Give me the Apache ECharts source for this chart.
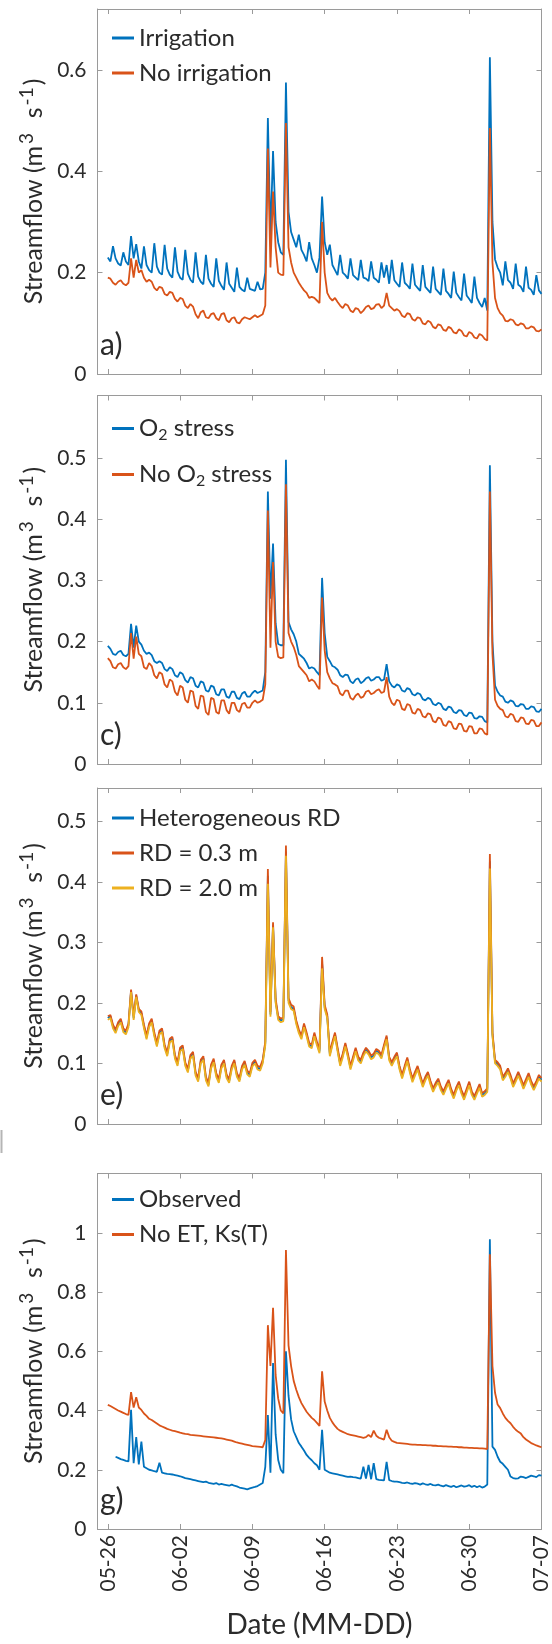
<!DOCTYPE html>
<html><head><meta charset="utf-8">
<script src="https://cdn.jsdelivr.net/npm/echarts@6/dist/echarts.min.js"></script>
<style>html,body{margin:0;padding:0;background:#fff}#c{width:552px;height:1644px}</style>
</head><body><div id="c"></div><script>
// x positions: days since 05-26 00:00, sampled every 6 h (0 .. 42)
const tickDays = [0, 7, 14, 21, 28, 35, 42];
const tickLabels = ['05-26', '06-02', '06-09', '06-16', '06-23', '06-30', '07-07'];
const days = [];
for (let i = 0; i <= 168; i++) days.push(i / 4);

// Panel a
const irrigation = [
0.23,0.222,0.252,0.228, 0.218,0.214,0.24,0.222, 0.215,0.272,0.228,0.256, 0.222,0.208,0.252,0.215, 0.205,0.2,0.258,0.212, 0.2,0.196,0.255,0.208, 0.196,0.19,0.25,0.202,
0.19,0.186,0.245,0.198, 0.186,0.18,0.24,0.192, 0.182,0.177,0.235,0.188, 0.178,0.172,0.228,0.184, 0.174,0.166,0.22,0.178, 0.17,0.162,0.21,0.172, 0.166,0.163,0.19,0.168,
0.166,0.164,0.182,0.167, 0.168,0.2,0.505,0.27, 0.44,0.3,0.26,0.24, 0.235,0.575,0.32,0.28, 0.265,0.25,0.275,0.245, 0.235,0.222,0.26,0.228, 0.215,0.2,0.23,0.35,
0.26,0.235,0.255,0.215, 0.205,0.195,0.235,0.2, 0.195,0.188,0.228,0.195, 0.19,0.185,0.225,0.19, 0.188,0.183,0.222,0.19, 0.186,0.18,0.22,0.19, 0.215,0.178,0.225,0.185,
0.178,0.172,0.22,0.18, 0.175,0.168,0.218,0.176, 0.17,0.164,0.215,0.172, 0.166,0.16,0.212,0.168, 0.162,0.156,0.208,0.164, 0.158,0.15,0.202,0.16, 0.152,0.145,0.198,0.155,
0.148,0.14,0.192,0.15, 0.14,0.132,0.15,0.125, 0.625,0.3,0.226,0.21, 0.2,0.175,0.222,0.185, 0.18,0.168,0.218,0.176, 0.172,0.162,0.212,0.17, 0.166,0.156,0.195,0.165,
0.158];
const noIrrigation = [
0.19,0.188,0.18,0.176, 0.182,0.185,0.178,0.175, 0.18,0.228,0.19,0.225, 0.2,0.205,0.19,0.182, 0.186,0.182,0.17,0.165, 0.172,0.17,0.158,0.155, 0.162,0.16,0.148,0.143,
0.15,0.148,0.135,0.13, 0.138,0.133,0.118,0.11, 0.122,0.125,0.112,0.11, 0.118,0.12,0.11,0.106, 0.118,0.12,0.106,0.102, 0.11,0.112,0.102,0.1, 0.108,0.112,0.11,0.108,
0.112,0.116,0.112,0.115, 0.118,0.135,0.445,0.21, 0.36,0.25,0.2,0.196, 0.195,0.495,0.25,0.22, 0.2,0.19,0.18,0.172, 0.165,0.16,0.15,0.152, 0.15,0.145,0.14,0.30,
0.2,0.16,0.15,0.145, 0.15,0.142,0.135,0.13, 0.138,0.135,0.125,0.122, 0.13,0.128,0.12,0.125, 0.132,0.135,0.128,0.13, 0.137,0.138,0.13,0.135, 0.16,0.135,0.13,0.125,
0.128,0.124,0.115,0.112, 0.12,0.118,0.108,0.105, 0.112,0.11,0.1,0.098, 0.105,0.102,0.093,0.09, 0.098,0.096,0.087,0.085, 0.093,0.09,0.082,0.08, 0.088,0.085,0.076,0.074,
0.083,0.08,0.072,0.07, 0.079,0.076,0.069,0.066, 0.485,0.22,0.15,0.13, 0.12,0.115,0.105,0.104, 0.108,0.106,0.098,0.096, 0.1,0.098,0.09,0.09, 0.094,0.092,0.085,0.084,
0.088];

// Panel c
const o2Stress = [
0.193,0.188,0.18,0.178, 0.183,0.185,0.178,0.176, 0.18,0.229,0.19,0.226, 0.2,0.195,0.185,0.18, 0.182,0.178,0.168,0.165, 0.168,0.165,0.155,0.152, 0.158,0.155,0.145,0.142,
0.15,0.147,0.137,0.133, 0.142,0.14,0.128,0.125, 0.135,0.133,0.12,0.118, 0.128,0.126,0.114,0.112, 0.122,0.122,0.11,0.108, 0.118,0.118,0.108,0.106, 0.115,0.118,0.11,0.11,
0.116,0.12,0.116,0.118, 0.12,0.15,0.445,0.27, 0.36,0.23,0.196,0.194, 0.194,0.497,0.232,0.22, 0.212,0.2,0.18,0.176, 0.172,0.165,0.156,0.158, 0.156,0.15,0.145,0.304,
0.214,0.175,0.168,0.16, 0.158,0.154,0.145,0.142, 0.146,0.145,0.135,0.132, 0.138,0.14,0.132,0.135, 0.14,0.142,0.136,0.138, 0.142,0.142,0.136,0.138, 0.163,0.135,0.128,0.125,
0.13,0.128,0.12,0.118, 0.124,0.122,0.114,0.112, 0.116,0.114,0.106,0.104, 0.108,0.106,0.098,0.096, 0.1,0.098,0.09,0.088, 0.094,0.092,0.085,0.083, 0.088,0.087,0.08,0.078,
0.084,0.083,0.075,0.074, 0.078,0.077,0.07,0.068, 0.488,0.2,0.128,0.118, 0.112,0.11,0.102,0.1, 0.104,0.102,0.095,0.094, 0.098,0.097,0.09,0.09, 0.094,0.093,0.086,0.085,
0.09];
const noO2Stress = [
0.173,0.168,0.158,0.156, 0.163,0.165,0.158,0.155, 0.16,0.214,0.172,0.208, 0.18,0.176,0.158,0.155, 0.165,0.16,0.145,0.14, 0.15,0.147,0.13,0.125, 0.138,0.135,0.118,0.112,
0.128,0.125,0.105,0.1, 0.12,0.118,0.095,0.09, 0.112,0.11,0.085,0.08, 0.108,0.106,0.085,0.082, 0.104,0.104,0.088,0.082, 0.1,0.1,0.088,0.085, 0.098,0.1,0.092,0.092,
0.1,0.104,0.1,0.102, 0.105,0.13,0.414,0.19, 0.33,0.2,0.175,0.173, 0.174,0.457,0.214,0.2, 0.191,0.178,0.16,0.155, 0.15,0.145,0.135,0.138, 0.135,0.128,0.122,0.272,
0.186,0.15,0.14,0.132, 0.13,0.127,0.115,0.112, 0.12,0.12,0.108,0.105, 0.112,0.115,0.108,0.11, 0.118,0.12,0.114,0.116, 0.12,0.122,0.116,0.118, 0.142,0.11,0.1,0.096,
0.105,0.103,0.09,0.088, 0.098,0.096,0.084,0.082, 0.09,0.088,0.078,0.076, 0.083,0.081,0.07,0.068, 0.076,0.074,0.064,0.062, 0.07,0.068,0.058,0.057, 0.066,0.065,0.054,0.053,
0.062,0.061,0.05,0.05, 0.058,0.057,0.05,0.048, 0.445,0.18,0.105,0.095, 0.09,0.088,0.078,0.076, 0.082,0.08,0.07,0.069, 0.076,0.075,0.066,0.065, 0.072,0.071,0.062,0.062,
0.068];

// Panel e
const heteroRD = [
0.175,0.178,0.161,0.153, 0.165,0.171,0.155,0.151, 0.163,0.22,0.175,0.212, 0.188,0.183,0.161,0.143, 0.163,0.171,0.148,0.131, 0.151,0.155,0.128,0.115, 0.138,0.141,0.111,0.099,
0.123,0.127,0.099,0.088, 0.111,0.116,0.083,0.073, 0.103,0.109,0.075,0.065, 0.095,0.105,0.081,0.071, 0.095,0.103,0.079,0.071, 0.093,0.103,0.081,0.073, 0.093,0.101,0.085,0.081,
0.098,0.103,0.093,0.091, 0.103,0.133,0.41,0.181, 0.329,0.203,0.175,0.171, 0.173,0.45,0.204,0.193, 0.19,0.168,0.153,0.143, 0.163,0.148,0.131,0.128, 0.148,0.133,0.12,0.266,
0.193,0.178,0.115,0.133, 0.148,0.123,0.099,0.113, 0.131,0.113,0.093,0.108, 0.123,0.108,0.103,0.115, 0.123,0.118,0.11,0.113, 0.121,0.118,0.111,0.128, 0.143,0.108,0.099,0.108,
0.115,0.093,0.078,0.093, 0.107,0.088,0.072,0.083, 0.093,0.078,0.064,0.075, 0.083,0.068,0.056,0.065, 0.072,0.059,0.051,0.061, 0.07,0.055,0.045,0.058, 0.067,0.053,0.043,0.055,
0.067,0.051,0.043,0.053, 0.063,0.048,0.051,0.056, 0.434,0.148,0.103,0.099, 0.093,0.075,0.081,0.089, 0.078,0.064,0.073,0.083, 0.073,0.061,0.071,0.081, 0.068,0.059,0.068,0.078,
0.073];
const rd03 = [
0.178,0.18,0.164,0.156, 0.168,0.174,0.158,0.154, 0.166,0.222,0.178,0.214, 0.19,0.186,0.164,0.146, 0.166,0.174,0.151,0.134, 0.154,0.158,0.131,0.118, 0.141,0.144,0.114,0.102,
0.126,0.13,0.102,0.091, 0.114,0.119,0.086,0.076, 0.106,0.112,0.078,0.068, 0.098,0.108,0.084,0.074, 0.098,0.106,0.082,0.074, 0.096,0.106,0.084,0.076, 0.096,0.104,0.088,0.084,
0.101,0.106,0.096,0.094, 0.106,0.136,0.421,0.185, 0.333,0.207,0.178,0.174, 0.176,0.46,0.208,0.197, 0.194,0.171,0.156,0.146, 0.166,0.151,0.134,0.131, 0.151,0.136,0.123,0.276,
0.197,0.181,0.118,0.136, 0.151,0.126,0.102,0.116, 0.134,0.116,0.096,0.111, 0.126,0.111,0.106,0.118, 0.126,0.121,0.113,0.116, 0.124,0.121,0.114,0.131, 0.146,0.111,0.102,0.111,
0.118,0.096,0.081,0.096, 0.11,0.091,0.075,0.086, 0.096,0.081,0.067,0.078, 0.086,0.071,0.059,0.068, 0.075,0.062,0.054,0.064, 0.073,0.058,0.048,0.061, 0.07,0.056,0.046,0.058,
0.07,0.054,0.046,0.056, 0.066,0.051,0.054,0.059, 0.446,0.152,0.106,0.102, 0.096,0.078,0.084,0.092, 0.081,0.067,0.076,0.086, 0.076,0.064,0.074,0.084, 0.071,0.062,0.071,0.081,
0.076];
const rd20 = [
0.172,0.175,0.158,0.15, 0.162,0.168,0.152,0.148, 0.16,0.218,0.172,0.21, 0.185,0.18,0.158,0.14, 0.16,0.168,0.145,0.128, 0.148,0.152,0.125,0.112, 0.135,0.138,0.108,0.096,
0.12,0.124,0.096,0.085, 0.108,0.113,0.08,0.07, 0.1,0.106,0.072,0.062, 0.092,0.102,0.078,0.068, 0.092,0.1,0.076,0.068, 0.09,0.1,0.078,0.07, 0.09,0.098,0.082,0.078,
0.095,0.1,0.09,0.088, 0.1,0.13,0.397,0.177, 0.325,0.2,0.172,0.168, 0.17,0.443,0.2,0.19, 0.187,0.165,0.15,0.14, 0.16,0.145,0.128,0.125, 0.145,0.13,0.117,0.257,
0.19,0.175,0.112,0.13, 0.145,0.12,0.096,0.11, 0.128,0.11,0.09,0.105, 0.12,0.105,0.1,0.112, 0.12,0.115,0.107,0.11, 0.118,0.115,0.108,0.125, 0.14,0.105,0.096,0.105,
0.112,0.09,0.075,0.09, 0.104,0.085,0.069,0.08, 0.09,0.075,0.061,0.072, 0.08,0.065,0.053,0.062, 0.069,0.056,0.048,0.058, 0.067,0.052,0.042,0.055, 0.064,0.05,0.04,0.052,
0.064,0.048,0.04,0.05, 0.06,0.045,0.048,0.053, 0.422,0.145,0.1,0.096, 0.09,0.072,0.078,0.086, 0.075,0.061,0.07,0.08, 0.07,0.058,0.068,0.078, 0.065,0.056,0.065,0.075,
0.07];

// Panel g
const observed = [
null,null,null,0.244, 0.24,0.236,0.233,0.23, 0.228,0.402,0.222,0.31, 0.218,0.295,0.21,0.205, 0.2,0.198,0.195,0.193, 0.224,0.19,0.188,0.186, 0.185,0.184,0.182,0.18,
0.178,0.175,0.172,0.17, 0.168,0.166,0.164,0.162, 0.16,0.158,0.16,0.156, 0.154,0.152,0.155,0.15, 0.152,0.15,0.148,0.146, 0.15,0.146,0.144,0.14, 0.138,0.136,0.134,0.137,
0.14,0.142,0.145,0.15, 0.155,0.21,0.385,0.19, 0.56,0.32,0.233,0.2, 0.188,0.6,0.45,0.37, 0.33,0.31,0.29,0.278, 0.265,0.25,0.24,0.232, 0.222,0.215,0.2,0.335,
0.2,0.195,0.19,0.188, 0.186,0.184,0.182,0.18, 0.178,0.176,0.177,0.175, 0.174,0.172,0.17,0.21, 0.17,0.216,0.168,0.222, 0.168,0.166,0.165,0.164, 0.227,0.165,0.162,0.16,
0.16,0.158,0.156,0.155, 0.157,0.154,0.152,0.155, 0.153,0.15,0.154,0.151, 0.149,0.152,0.148,0.147, 0.15,0.146,0.144,0.148, 0.145,0.142,0.146,0.141, 0.144,0.147,0.143,0.145,
0.148,0.142,0.146,0.141, 0.145,0.14,0.143,0.15, 0.978,0.278,0.267,0.244, 0.227,0.22,0.21,0.2, 0.177,0.172,0.17,0.171, 0.177,0.175,0.172,0.176, 0.18,0.178,0.175,0.182,
0.18];
const noEtKsT = [
0.419,0.415,0.41,0.405, 0.4,0.396,0.392,0.388, 0.385,0.462,0.41,0.445, 0.41,0.402,0.39,0.382, 0.372,0.368,0.362,0.356, 0.35,0.346,0.342,0.338, 0.335,0.332,0.33,0.328,
0.325,0.323,0.321,0.32, 0.318,0.317,0.316,0.315, 0.314,0.313,0.312,0.311, 0.31,0.309,0.308,0.307, 0.306,0.304,0.302,0.3, 0.298,0.295,0.292,0.29, 0.288,0.286,0.284,0.282,
0.28,0.279,0.278,0.277, 0.276,0.3,0.688,0.55, 0.747,0.52,0.44,0.4, 0.39,0.942,0.62,0.55, 0.5,0.47,0.445,0.425, 0.41,0.396,0.385,0.375, 0.368,0.358,0.348,0.532,
0.43,0.4,0.375,0.36, 0.348,0.338,0.332,0.328, 0.324,0.32,0.318,0.316, 0.314,0.312,0.31,0.308, 0.31,0.318,0.31,0.332, 0.315,0.308,0.305,0.302, 0.335,0.31,0.298,0.294,
0.291,0.29,0.289,0.288, 0.287,0.286,0.285,0.285, 0.284,0.284,0.283,0.283, 0.282,0.282,0.281,0.281, 0.28,0.28,0.279,0.279, 0.278,0.278,0.277,0.277, 0.276,0.276,0.275,0.275,
0.274,0.274,0.273,0.273, 0.272,0.272,0.271,0.27, 0.927,0.55,0.46,0.42, 0.408,0.39,0.375,0.365, 0.357,0.345,0.335,0.328, 0.322,0.31,0.302,0.296, 0.29,0.286,0.282,0.279,
0.276];

const yTicksA = [0, 0.2, 0.4, 0.6];
const yTicksC = [0, 0.1, 0.2, 0.3, 0.4, 0.5];
const yTicksE = [0, 0.1, 0.2, 0.3, 0.4, 0.5];
const yTicksG = [0, 0.2, 0.4, 0.6, 0.8, 1];

const BLUE = '#0072BD', ORANGE = '#D95319', YELLOW = '#EDB120';
const TXT = '#2b2b2b', AX = '#9a9a9a', FONT = 'Lato';

const panels = [
  {top: 9, h: 365, ymax: 0.72, yt: yTicksA, label: 'a)', gap: 11, lt: 17,
   series: [{name: 'Irrigation', d: irrigation, c: BLUE}, {name: 'No irrigation', d: noIrrigation, c: ORANGE}]},
  {top: 395.5, h: 368.5, ymax: 0.602, yt: yTicksC, label: 'c)', gap: 20, lt: 21,
   series: [{name: 'O2 stress', d: o2Stress, c: BLUE}, {name: 'No O2 stress', d: noO2Stress, c: ORANGE}]},
  {top: 788, h: 336, ymax: 0.555, yt: yTicksE, label: 'e)', gap: 11, lt: 18,
   series: [{name: 'Heterogeneous RD', d: heteroRD, c: BLUE}, {name: 'RD = 0.3 m', d: rd03, c: ORANGE}, {name: 'RD = 2.0 m', d: rd20, c: YELLOW}]},
  {top: 1173.5, h: 355.5, ymax: 1.2, yt: yTicksG, label: 'g)', gap: 11, lt: 14,
   series: [{name: 'Observed', d: observed, c: BLUE}, {name: 'No ET, Ks(T)', d: noEtKsT, c: ORANGE}]}
];

const axLine = {show: true, onZero: false, lineStyle: {color: AX, width: 1}};
const grid = [], xAxis = [], yAxis = [], series = [], legend = [], graphic = [];
panels.forEach((p, i) => {
  grid.push({left: 97.5, right: 10.5, top: p.top, height: p.h});
  const last = i === panels.length - 1;
  xAxis.push({type: 'value', gridIndex: i, min: -1, max: 42, axisLine: axLine,
    axisTick: {inside: true, length: 5, customValues: tickDays, lineStyle: {color: AX}},
    axisLabel: {show: last, customValues: tickDays, rotate: 90, margin: 6, fontSize: 21, color: TXT, fontFamily: FONT,
      formatter: v => tickLabels[tickDays.indexOf(v)]},
    splitLine: {show: false},
    name: last ? 'Date (MM-DD)' : '', nameLocation: 'middle', nameGap: 82,
    nameTextStyle: {fontSize: 28, color: TXT, fontFamily: FONT}});
  xAxis.push({type: 'value', gridIndex: i, position: 'top', min: -1, max: 42, axisLine: axLine,
    axisTick: {inside: true, length: 5, customValues: tickDays, lineStyle: {color: AX}},
    axisLabel: {show: false}, splitLine: {show: false}});
  yAxis.push({type: 'value', gridIndex: i, min: 0, max: p.ymax, axisLine: axLine,
    axisTick: {inside: true, length: 5, customValues: p.yt, lineStyle: {color: AX}},
    axisLabel: {customValues: p.yt, margin: 11, fontSize: 21, color: TXT, fontFamily: FONT},
    splitLine: {show: false},
    name: 'Streamflow (m{sup|3}  s{sup|-1})', nameLocation: 'middle', nameGap: 45,
    nameTextStyle: {fontSize: 25, color: TXT, fontFamily: FONT,
      rich: {sup: {fontSize: 19, color: TXT, fontFamily: FONT, padding: [0, 2, 14, 2]}}}});
  yAxis.push({type: 'value', gridIndex: i, position: 'right', min: 0, max: p.ymax, axisLine: axLine,
    axisTick: {inside: true, length: 5, customValues: p.yt, lineStyle: {color: AX}},
    axisLabel: {show: false}, splitLine: {show: false}});
  p.series.forEach(s => {
    series.push({type: 'line', name: s.name, xAxisIndex: 2 * i, yAxisIndex: 2 * i,
      data: days.map((x, k) => [x, s.d[k]]), showSymbol: false, symbol: 'none',
      lineStyle: {width: 1.8, color: s.c}, itemStyle: {color: s.c}, animation: false});
  });
  legend.push({data: p.series.map(s => s.name), orient: 'vertical', left: 112, top: p.top + p.lt,
    padding: 0, itemWidth: 22, itemHeight: 3, icon: 'rect', itemGap: p.gap, selectedMode: false,
    textStyle: {fontSize: 24, color: TXT, fontFamily: FONT,
      rich: {sub: {fontSize: 16, color: TXT, fontFamily: FONT, padding: [12, 0, 0, 0]}}},
    formatter: n => n.replace('O2', 'O{sub|2}')});
  graphic.push({type: 'text', left: 100, top: p.top + p.h - 44,
    style: {text: p.label, fontSize: 30, fill: TXT, fontFamily: FONT}});
});
// small grey crop mark at the left edge of the original figure
graphic.push({type: 'line', shape: {x1: 1.5, y1: 1130, x2: 1.5, y2: 1153}, style: {stroke: '#b5b5b5', lineWidth: 2}});

const chart = echarts.init(document.getElementById('c'), null, {renderer: 'canvas'});
chart.setOption({animation: false, textStyle: {fontFamily: FONT}, grid, xAxis, yAxis, series, legend, graphic});
</script></body></html>
